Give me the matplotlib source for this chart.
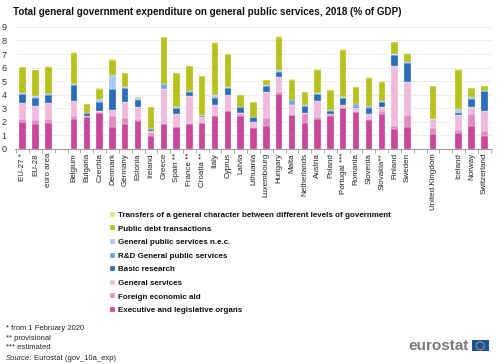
import numpy as np
import matplotlib
matplotlib.use('Agg')
from matplotlib import pyplot as plt
from matplotlib.patches import Rectangle, Circle

plt.rcParams['font.family'] = ['Liberation Sans', 'DejaVu Sans']

countries = ['EU-27 *', 'EU-28', 'euro area', '',
             'Belgium', 'Bulgaria', 'Czechia', 'Denmark', 'Germany', 'Estonia', 'Ireland',
             'Greece', 'Spain **', 'France **', 'Croatia **', 'Italy', 'Cyprus', 'Latvia',
             'Lithuania', 'Luxembourg', 'Hungary', 'Malta', 'Netherlands', 'Austria', 'Poland',
             'Portugal ***', 'Romania', 'Slovenia', 'Slovakia**', 'Finland', 'Sweden', '',
             'United Kingdom', '', 'Iceland', 'Norway', 'Switzerland']

# values in % of GDP (0 for the empty gap slots)
executive = [1.95, 1.83, 1.93, 0, 2.22, 2.37, 2.66, 1.60, 1.80, 2.07, 0.98, 1.80, 1.58, 1.80, 1.90,
             2.39, 2.80, 2.44, 1.51, 1.68, 4.07, 2.51, 1.93, 2.22, 2.44, 3.02, 2.73, 2.12, 2.61,
             1.49, 1.63, 0, 1.07, 0, 1.20, 1.71, 0.93]
foreign_aid = [0.27, 0.32, 0.24, 0, 0.22, 0.03, 0.05, 0.80, 0.50, 0.17, 0.19, 0.05, 0.05, 0.10, 0.03,
               0.12, 0.02, 0.14, 0.07, 0.61, 0.10, 0.02, 0.61, 0.15, 0.12, 0.02, 0.02, 0.10, 0.15,
               0.21, 0.88, 0, 0.47, 0, 0.21, 0.88, 0.36]
general_services = [1.15, 1.05, 1.20, 0, 1.12, 0.03, 0.10, 0.48, 1.16, 0.83, 0.17, 2.56, 0.95, 1.97, 0.41,
                    0.76, 1.18, 0.05, 0.42, 1.88, 1.15, 0.69, 0.14, 1.19, 0.03, 0.18, 0.30, 0.34, 0.31,
                    4.40, 2.39, 0, 0.66, 0, 1.10, 0.51, 1.47]
basic_research = [0.65, 0.58, 0.60, 0, 1.14, 0.20, 0.62, 1.53, 1.00, 0.56, 0.10, 0.03, 0.44, 0.34, 0.10,
                  0.51, 0.46, 0.44, 0.34, 0.44, 0.36, 0.02, 0.49, 0.49, 0.24, 0.54, 0.02, 0.44, 0.42,
                  0.83, 1.47, 0, 0.00, 0, 0.17, 0.56, 1.48]
rd_services = [0.05, 0.05, 0.05, 0, 0.03, 0.02, 0.05, 0.02, 0.05, 0.03, 0.02, 0.34, 0.02, 0.03, 0.03,
               0.05, 0.05, 0.02, 0.02, 0.03, 0.05, 0.35, 0.02, 0.03, 0.02, 0.02, 0.22, 0.15, 0.02,
               0.02, 0.02, 0, 0.00, 0, 0.02, 0.12, 0.02]
nec = [0.05, 0.05, 0.05, 0, 0.03, 0.03, 0.17, 1.00, 0.07, 0.07, 0.03, 0.02, 0.02, 0.02, 0.03,
       0.12, 0.02, 0.02, 0.02, 0.07, 0.10, 0.02, 0.03, 0.02, 0.02, 0.03, 0.02, 0.03, 0.02,
       0.03, 0.03, 0, 0.02, 0, 0.28, 0.02, 0.04]
public_debt = [1.90, 1.92, 2.00, 0, 2.34, 0.60, 0.80, 1.14, 1.02, 0.10, 1.57, 3.44, 2.54, 1.85, 2.85,
               3.88, 2.45, 0.87, 1.08, 0.36, 2.46, 1.50, 0.98, 1.75, 1.47, 3.51, 1.25, 2.07, 1.42,
               0.90, 0.60, 0, 2.41, 0, 2.87, 0.66, 0.31]
transfers = [0.03, 0.03, 0.03, 0, 0.03, 0.02, 0.03, 0.03, 0.03, 0.02, 0.03, 0.05, 0.03, 0.03, 0.03,
             0.04, 0.04, 0.03, 0.03, 0.03, 0.04, 0.04, 0.03, 0.04, 0.03, 0.04, 0.03, 0.04, 0.03,
             0.04, 0.04, 0, 0.04, 0, 0.03, 0.04, 0.03]

series = [
    ('Executive and legislative organs', executive, '#c9489c'),
    ('Foreign economic aid', foreign_aid, '#e28cc3'),
    ('General services', general_services, '#efbadb'),
    ('Basic research', basic_research, '#2a6db8'),
    ('R&D General public services', rd_services, '#6fa5e0'),
    ('General public services n.e.c.', nec, '#a9caf0'),
    ('Public debt transactions', public_debt, '#b8c21c'),
    ('Transfers of a general character between different levels of government', transfers, '#e0e57e'),
]

fig = plt.figure(figsize=(5, 3.64), dpi=100)
ax = fig.add_axes([0.03, 0.591, 0.954, 0.335])

x = np.arange(len(countries))
bottom = np.zeros(len(countries))
handles = []
for name, vals, col in series:
    vals = np.array(vals)
    b = ax.bar(x, vals, 0.5, bottom=bottom, color=col, edgecolor='white', linewidth=0.2, label=name)
    handles.append(b)
    bottom += vals

ax.set_xlim(-0.6, len(countries) - 0.4)
ax.set_ylim(0, 9)
ax.set_yticks(range(10))
ax.tick_params(axis='y', length=0, labelsize=6.5, labelcolor='#333333', pad=6)
ax.set_xticks(x)
ax.set_xticklabels(countries, rotation=90, fontsize=5.8, color='#222222')
ax.set_xticks(np.arange(len(countries) + 1) - 0.5, minor=True)
ax.tick_params(axis='x', which='major', length=0, pad=3)
ax.tick_params(axis='x', which='minor', length=3, color='#999999', width=0.6)
ax.grid(axis='y', color='#cccccc', linestyle=(0, (1, 1.5)), linewidth=0.6)
ax.set_axisbelow(True)
for s in ['left', 'right', 'top']:
    ax.spines[s].set_visible(False)
ax.spines['bottom'].set_color('#999999')
ax.spines['bottom'].set_linewidth(0.7)

fig.text(0.026, 0.967, 'Total general government expenditure on general public services, 2018 (% of GDP)',
         fontsize=7.1, fontweight='bold', va='center', color='#111111')

leg = fig.legend(handles[::-1], [s[0] for s in series][::-1], loc='upper left',
                 bbox_to_anchor=(0.214, 0.427), frameon=False, fontsize=5.75, handlelength=0.6,
                 handleheight=0.6, handletextpad=0.4, labelspacing=0.78, borderaxespad=0)
for t in leg.get_texts():
    t.set_fontweight('bold')
    t.set_color('#111111')

fig.text(0.012, 0.097, '* from 1 February 2020', fontsize=5.5, va='center', color='#222222')
fig.text(0.012, 0.071, '** provisional', fontsize=5.5, va='center', color='#222222')
fig.text(0.012, 0.046, '*** estimated', fontsize=5.5, va='center', color='#222222')
fig.text(0.012, 0.014, 'Source:', fontsize=5.5, va='center', style='italic', color='#222222')
fig.text(0.068, 0.014, 'Eurostat (gov_10a_exp)', fontsize=5.5, va='center', color='#222222')

# eurostat logo
fig.text(0.937, 0.049, 'eurostat', fontsize=11, fontweight='bold', color='#7a7a7a',
         ha='right', va='center')
fig.patches.append(Rectangle((0.944, 0.035), 0.033, 0.03, transform=fig.transFigure,
                             facecolor='#1f4fa0', edgecolor='none'))
for a in np.linspace(0, 2 * np.pi, 12, endpoint=False):
    fig.patches.append(Circle((0.9605 + 0.008 * np.cos(a), 0.05 + 0.011 * np.sin(a)), 0.0015,
                              transform=fig.transFigure, facecolor='#ffd617', edgecolor='none'))

fig.savefig('out.png', dpi=100)
